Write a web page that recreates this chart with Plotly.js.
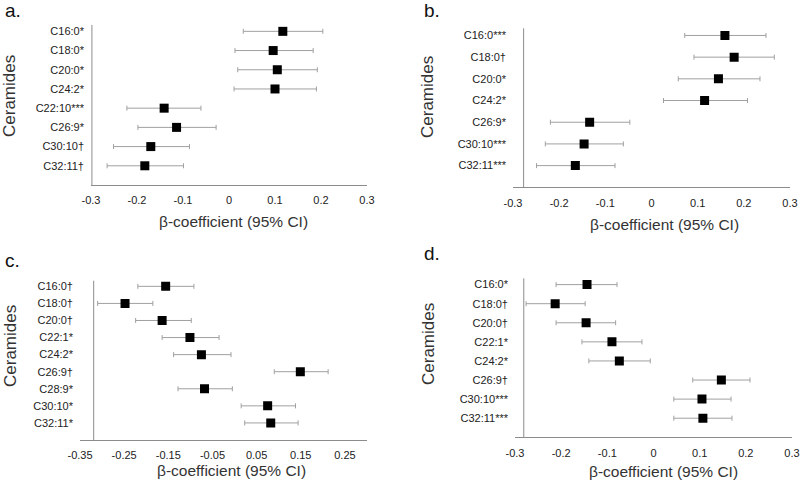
<!DOCTYPE html>
<html>
<head>
<meta charset="utf-8">
<script src="https://cdn.plot.ly/plotly-3.0.1.min.js"></script>
<style>html,body{margin:0;padding:0;background:#fff;}#chart{width:800px;height:485px;}</style>
</head>
<body>
<div id="chart"></div>
<script>
// Panel a
const catsA = ["C16:0*", "C18:0*", "C20:0*", "C24:2*", "C22:10***", "C26:9*", "C30:10†", "C32:11†"];
const betaA = [0.117, 0.096, 0.105, 0.100, -0.141, -0.114, -0.170, -0.183];
const lowA  = [0.031, 0.013, 0.019, 0.011, -0.222, -0.198, -0.251, -0.265];
const highA = [0.204, 0.183, 0.192, 0.190, -0.061, -0.028, -0.086, -0.099];

// Panel b
const catsB = ["C16:0***", "C18:0†", "C20:0*", "C24:2*", "C26:9*", "C30:10***", "C32:11***"];
const betaB = [0.159, 0.179, 0.145, 0.115, -0.134, -0.146, -0.165];
const lowB  = [0.072, 0.092, 0.058, 0.026, -0.219, -0.230, -0.249];
const highB = [0.248, 0.266, 0.235, 0.208, -0.047, -0.061, -0.079];

// Panel c
const catsC = ["C16:0†", "C18:0†", "C20:0†", "C22:1*", "C24:2*", "C26:9†", "C28:9*", "C30:10*", "C32:11*"];
const betaC = [-0.156, -0.248, -0.164, -0.101, -0.075, 0.149, -0.068, 0.075, 0.082];
const lowC  = [-0.219, -0.310, -0.224, -0.164, -0.138, 0.090, -0.128, 0.015, 0.023];
const highC = [-0.092, -0.185, -0.098, -0.035, -0.008, 0.212, -0.005, 0.138, 0.144];

// Panel d
const catsD = ["C16:0*", "C18:0†", "C20:0†", "C22:1*", "C24:2*", "C26:9†", "C30:10***", "C32:11***"];
const betaD = [-0.144, -0.213, -0.146, -0.090, -0.074, 0.147, 0.105, 0.107];
const lowD  = [-0.211, -0.276, -0.211, -0.155, -0.140, 0.085, 0.044, 0.044];
const highD = [-0.079, -0.148, -0.082, -0.025, -0.007, 0.209, 0.168, 0.170];

// Tick labels
const ticksAB = [-0.3, -0.2, -0.1, 0, 0.1, 0.2, 0.3];
const tickTextAB = ["-0.3", "-0.2", "-0.1", "0", "0.1", "0.2", "0.3"];
const ticksC = [-0.35, -0.25, -0.15, -0.05, 0.05, 0.15, 0.25];
const tickTextC = ["-0.35", "-0.25", "-0.15", "-0.05", "0.05", "0.15", "0.25"];

const xTitle = "β-coefficient (95% CI)";
const yTitle = "Ceramides";
const panelLabels = ["a.", "b.", "c.", "d."];

const FONT = "Liberation Sans, Arial, sans-serif";
const W = 800, H = 485;
const AXIS_COLOR = "#8c8c8c";

function trace(cats, beta, low, high, xa, ya) {
  return {
    type: "scatter", mode: "markers",
    x: beta, y: cats, xaxis: xa, yaxis: ya,
    marker: {symbol: "square", size: 9, color: "#000"},
    error_x: {
      type: "data", symmetric: false,
      array: high.map((h, i) => h - beta[i]),
      arrayminus: beta.map((b, i) => b - low[i]),
      color: "#a0a0a0", thickness: 1, width: 2.5
    },
    showlegend: false, hoverinfo: "x+y"
  };
}

function px(x0, x1) { return [x0 / W, x1 / W]; }
function py(top, bottom) { return [1 - bottom / H, 1 - top / H]; }

function xaxis(domain, range, vals, text, anchor) {
  return {
    domain: domain, range: range, anchor: anchor,
    tickvals: vals, ticktext: text, ticks: "",
    showgrid: false, zeroline: false, showline: true,
    linecolor: AXIS_COLOR, linewidth: 1,
    tickfont: {family: FONT, size: 11, color: "#222"},
    ticklabelstandoff: 5, fixedrange: true
  };
}
function yaxis(domain, cats, anchor) {
  const n = cats.length;
  return {
    domain: domain, anchor: anchor, type: "category",
    categoryorder: "array", categoryarray: cats.slice().reverse(),
    range: [-1, n - 1 + 0.33],
    ticks: "", showgrid: false, zeroline: false, showline: false,
    tickfont: {family: FONT, size: 11, color: "#222"},
    ticklabelstandoff: 6, fixedrange: true
  };
}

const data = [
  trace(catsA, betaA, lowA, highA, "x", "y"),
  trace(catsB, betaB, lowB, highB, "x2", "y2"),
  trace(catsC, betaC, lowC, highC, "x3", "y3"),
  trace(catsD, betaD, lowD, highD, "x4", "y4")
];

function vline(xref, yref, xv) {
  return {type: "line", xref: xref, yref: yref + " domain", x0: xv, x1: xv, y0: 0, y1: 1,
          line: {color: AXIS_COLOR, width: 1}};
}

function ann(text, x, y, size, opts) {
  return Object.assign({
    text: text, xref: "paper", yref: "paper", x: x / W, y: 1 - y / H,
    showarrow: false, font: {family: FONT, size: size, color: "#333"},
    xanchor: "center", yanchor: "middle"
  }, opts || {});
}

const layout = {
  width: W, height: H,
  margin: {l: 0, r: 0, t: 0, b: 0},
  paper_bgcolor: "#fff", plot_bgcolor: "#fff",
  showlegend: false,
  xaxis:  xaxis(px(91, 367),  [-0.3, 0.3],  ticksAB, tickTextAB, "y"),
  yaxis:  yaxis(py(25, 185), catsA, "x"),
  xaxis2: xaxis(px(513, 790), [-0.3, 0.3],  ticksAB, tickTextAB, "y2"),
  yaxis2: yaxis(py(28.3, 187.3), catsB, "x2"),
  xaxis3: xaxis(px(80, 367),  [-0.35, 0.30], ticksC, tickTextC, "y3"),
  yaxis3: yaxis(py(280.7, 440), catsC, "x3"),
  xaxis4: xaxis(px(515, 792), [-0.3, 0.3],  ticksAB, tickTextAB, "y4"),
  yaxis4: yaxis(py(278.3, 437.3), catsD, "x4"),
  shapes: [
    vline("x", "y", -0.298),
    vline("x2", "y2", -0.277),
    vline("x3", "y3", -0.319),
    vline("x4", "y4", -0.281)
  ],
  annotations: [
    ann(xTitle, 233, 222, 15.5),
    ann(xTitle, 664, 224, 15.5),
    ann(xTitle, 232, 470, 15.5),
    ann(xTitle, 663, 471, 15.5),
    ann(yTitle, 10, 96, 17, {textangle: -90}),
    ann(yTitle, 428, 97, 17, {textangle: -90}),
    ann(yTitle, 10, 346, 17, {textangle: -90}),
    ann(yTitle, 428, 344, 17, {textangle: -90}),
    ann(panelLabels[0], 3, 10.5, 19, {xanchor: "left", font: {family: FONT, size: 19, color: "#111"}}),
    ann(panelLabels[1], 422, 10.5, 19, {xanchor: "left", font: {family: FONT, size: 19, color: "#111"}}),
    ann(panelLabels[2], 3, 260.5, 19, {xanchor: "left", font: {family: FONT, size: 19, color: "#111"}}),
    ann(panelLabels[3], 422, 253.5, 19, {xanchor: "left", font: {family: FONT, size: 19, color: "#111"}})
  ]
};

Plotly.newPlot("chart", data, layout, {displayModeBar: false, staticPlot: true});
</script>
</body>
</html>
